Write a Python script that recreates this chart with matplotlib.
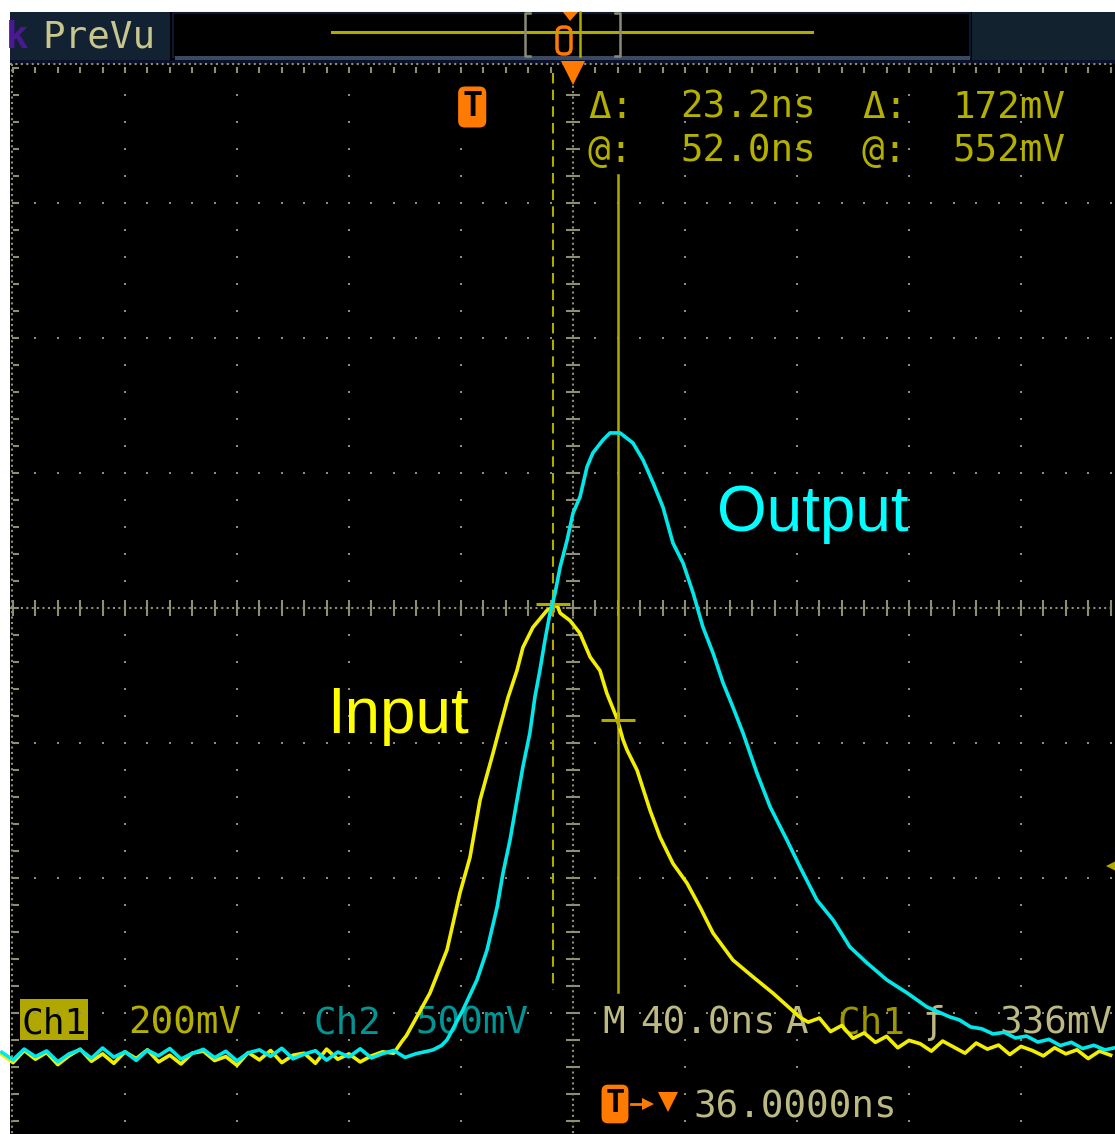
import matplotlib
matplotlib.use('Agg')
import matplotlib.pyplot as plt
import matplotlib.patches as patches
import matplotlib.transforms as mtransforms
import numpy as np

W, H = 1115, 1134
MONO = 'DejaVu Sans Mono'

# scope settings
ns_per_div = 40.0
t_center = 36.0            # trigger -> expansion point
ch1_mv_div = 200.0
ch2_mv_div = 500.0
cursor_t = [28.8, 52.0]    # @ 52.0 ns, delta 23.2 ns
cursor_mv = [724, 552]     # @ 552 mV, delta 172 mV
trig_level = 336           # A Ch1 rising 336 mV

# Ch1 (input), time in ns from trigger, volts in mV
in_base_t = [-168, -164, -160, -156, -152, -148, -144, -140, -136, -132, -128, -124,
             -120, -116, -112, -108, -104, -100, -96, -92, -88, -84, -80, -76, -72,
             -68, -64, -60, -56, -52, -48, -44, -40, -36, -32]
in_base_v = [57, 45, 63, 50, 60, 42, 55, 65, 47, 58, 44, 61, 51, 64, 46, 56, 43, 59,
             62, 48, 54, 41, 60, 49, 63, 45, 56, 59, 44, 65, 50, 58, 46, 55, 61]
in_pulse_t = [-28, -25, -23.5, -21.1, -15.1, -9.0, -4.4, -0.8, 2.8, 7.4, 9.9, 12.8,
              16.0, 18.1, 21.7, 26.7, 30.3, 31.4, 34.9, 38.5, 42.1, 45.6, 48.1, 51.7,
              53.9, 55.3, 58.9, 63.5, 67.1, 71.7, 76.7, 81.4, 86.0, 93.1, 100.3, 107.4, 117.1]
in_pulse_v = [59, 77, 85, 103, 148, 212, 296, 349, 434, 503, 542, 586, 626, 660, 690,
              715, 723, 711, 700, 681, 646, 626, 592, 555, 523, 508, 478, 419, 379, 340,
              311, 275, 237, 197, 172, 148, 112]
in_tail_t = [120, 124, 128, 132, 136, 140, 144, 148, 152, 156, 160, 164, 168, 172,
             176, 180, 184, 188, 192, 196, 200, 204, 208, 212, 216, 220, 224, 228]
in_tail_v = [105, 111, 91, 100, 81, 89, 75, 84, 67, 78, 73, 62, 77, 68, 59, 74, 65,
             71, 57, 69, 63, 55, 67, 58, 64, 51, 62, 56]

# Ch2 (output)
out_base_t = [-168, -164, -160, -156, -152, -148, -144, -140, -136, -132, -128, -124,
              -120, -116, -112, -108, -104, -100, -96, -92, -88, -84, -80, -76, -72,
              -68, -64, -60, -56, -52, -48, -44, -40, -36, -32, -28, -24]
out_base_v = [10, -18, 22, -6, 15, -25, 4, 20, -12, 26, -8, 12, -20, 18, -3, 24, -15,
              6, 21, -10, 14, -22, 8, 19, -5, 25, -14, 3, 16, -19, 11, -7, 23, -11, 5, 17, -9]
out_pulse_t = [-20, -16, -14, -11, -9, -3.3, 1.7, 5.3, 8.9, 11.0, 13.5, 16.0, 18.1,
               20.6, 22.4, 24.2, 26.0, 27.8, 29.6, 31.4, 33.9, 36.0, 38.5, 41.0, 43.1,
               46.7, 49.2, 52.8, 57.4, 61.0, 64.6, 68.1, 71.7, 75.3, 78.9, 82.4, 86.0,
               89.6, 93.1, 96.7, 101.7, 106.4, 112.4, 117.1, 123.1, 128.9, 134.9, 141.0,
               148.1, 155.3, 162.4, 170.6]
out_pulse_v = [5, 14, 19, 35, 56, 167, 278, 389, 548, 674, 796, 944, 1067, 1193, 1326,
               1426, 1537, 1637, 1711, 1807, 1907, 2007, 2067, 2178, 2230, 2278, 2304,
               2304, 2267, 2204, 2119, 2030, 1896, 1822, 1711, 1585, 1489, 1378, 1289,
               1193, 1044, 919, 796, 696, 574, 500, 400, 341, 278, 230, 178, 141]
out_tail_t = [174, 178, 182, 186, 190, 194, 198, 202, 206, 210, 214, 218, 222, 226, 230]
out_tail_v = [130, 104, 97, 78, 84, 63, 70, 48, 58, 35, 47, 24, 36, 19, 28]

t_in = in_base_t + in_pulse_t + in_tail_t
v_in = in_base_v + in_pulse_v + in_tail_v
t_out = out_base_t + out_pulse_t + out_tail_t
v_out = out_base_v + out_pulse_v + out_tail_v

# screen geometry (pixels)
gx0, gy0, dx, dy = 13, 68, 112, 135
xc, yc = gx0 + 5 * dx, gy0 + 4 * dy
ch1_gnd, ch2_gnd = 1093, 1055

yel_txt = '#b4b000'
khaki = '#bdb982'
teal = '#009696'
orange = '#ff7a00'
grid_c = '#8e8e72'
cur_c = '#b0ab00'

fig = plt.figure(figsize=(W / 100, H / 100), dpi=100)
fig.patch.set_facecolor('white')

bg = fig.add_axes([0, 0, 1, 1])
bg.set_xlim(0, W)
bg.set_ylim(H, 0)
bg.axis('off')

ax = fig.add_axes([0, 0, 1, 1])
ax.set_facecolor('none')
ax.axis('off')
ax.set_xlim(t_center + (0 - xc) / dx * ns_per_div, t_center + (W - xc) / dx * ns_per_div)
ax.set_ylim((ch1_gnd - H) / dy * ch1_mv_div, ch1_gnd / dy * ch1_mv_div)
ax2 = ax.twinx()
ax2.axis('off')
ax2.set_ylim((ch2_gnd - H) / dy * ch2_mv_div, ch2_gnd / dy * ch2_mv_div)
blend = mtransforms.blended_transform_factory(ax.transData, bg.transData)

# ---- screen background and top bar ----
bg.add_patch(patches.Rectangle((10, 12), W - 10, H - 12, fc='black', ec='none'))
box = patches.Rectangle((10, 12), 160, 48, fc='#122232', ec='none')
bg.add_patch(box)
bg.add_patch(patches.Rectangle((972, 12), W - 972, 48, fc='#13222f', ec='none'))
bg.add_patch(patches.Rectangle((173, 13), 797, 44, fc='black', ec='#0d1830', lw=1.5))
bg.add_patch(patches.Rectangle((175, 56), 795, 4, fc='#3a4a62', ec='none'))
bg.add_patch(patches.Rectangle((10, 60), W - 10, 4, fc='#0a0f2a', ec='none'))
bg.text(42, 48, 'PreVu', color='#c8c68e', fontsize=27, family=MONO)
k = bg.text(6, 48, 'k', color='#4a1890', fontsize=27, family=MONO, fontweight='bold')
k.set_clip_path(box)
bg.plot([332, 812], [32, 32], color=cur_c, lw=2.2)
bg.plot([530, 525, 525, 530], [13, 13, 56, 56], color='#8a8a78', lw=1.8)
bg.plot([615, 620, 620, 615], [13, 13, 56, 56], color='#8a8a78', lw=1.8)
bg.plot([580, 580], [12, 56], color=cur_c, lw=1.8)
bg.add_patch(patches.FancyBboxPatch((557, 27), 14, 27, boxstyle='round,pad=0,rounding_size=6',
                                    fc='black', ec=orange, lw=2.5))
bg.add_patch(patches.Polygon([(563, 12), (578, 12), (570, 21)], fc=orange, ec='none'))

# ---- graticule ----
ys_minor = gy0 + np.arange(0, 40) * dy / 5
xs_minor = gx0 + np.arange(0, 51) * dx / 5
for i in range(1, 10):
    if i == 5:
        continue
    bg.plot(np.full_like(ys_minor, gx0 + i * dx), ys_minor, ls='none', marker='s',
            ms=2.0, mew=0, color=grid_c)
for j in range(1, 8):
    if j == 4:
        continue
    bg.plot(xs_minor, np.full_like(xs_minor, gy0 + j * dy), ls='none', marker='s',
            ms=2.0, mew=0, color=grid_c)
bg.plot([xc, xc], [64, H], ls=(0, (1, 1.6)), lw=1.5, color=grid_c)
bg.plot(np.full_like(ys_minor, xc), ys_minor, ls='none', marker='_', ms=10, mew=1.5, color=grid_c)
bg.plot([10, W], [yc, yc], ls=(0, (1, 1.6)), lw=1.5, color=grid_c)
bg.plot(xs_minor, np.full_like(xs_minor, yc), ls='none', marker='|', ms=11, mew=1.5, color=grid_c)
bg.plot([10, W], [64, 64], ls=(0, (1, 1.6)), lw=1.5, color=grid_c)
bg.plot(xs_minor, np.full_like(xs_minor, 70), ls='none', marker='|', ms=5, mew=1.5, color=grid_c)
bg.plot([12, 12], [64, H], ls=(0, (1, 1.6)), lw=1.5, color=grid_c)
bg.plot(np.full_like(ys_minor, 16), ys_minor, ls='none', marker='_', ms=5, mew=1.5, color=grid_c)

# ---- readouts ----
fs = 27
for txt, x, y in [('Δ:', 588, 118), ('23.2ns', 680, 118), ('Δ:', 862, 118), ('172mV', 952, 118),
                  ('@:', 588, 162), ('52.0ns', 680, 162), ('@:', 862, 162), ('552mV', 952, 162)]:
    bg.text(x, y, txt, color=yel_txt, fontsize=fs, family=MONO)

bg.add_patch(patches.Rectangle((20, 999), 68, 41, fc='#b0a800', ec='none'))
bg.text(22, 1034, 'Ch1', color='black', fontsize=26, family=MONO)
bg.text(128, 1034, '200mV', color=yel_txt, fontsize=fs, family=MONO)
bg.text(313, 1034, 'Ch2', color=teal, fontsize=fs, family=MONO)
bg.text(415, 1034, '500mV', color=teal, fontsize=fs, family=MONO)
bg.text(602, 1033, 'M', color=khaki, fontsize=fs, family=MONO)
bg.text(640, 1033, '40.0ns', color=khaki, fontsize=fs, family=MONO)
bg.text(785, 1033, 'A', color=khaki, fontsize=fs, family=MONO)
bg.text(838, 1033, 'Ch1', color='#9c9600', fontsize=fs, family=MONO)
bg.text(922, 1033, 'ƒ', color=khaki, fontsize=fs, family=MONO)
bg.text(999, 1033, '336mV', color=khaki, fontsize=fs, family=MONO)
bg.text(615, 1104, 'T', color='black', fontsize=23, family=MONO, fontweight='bold',
        ha='center', va='center',
        bbox=dict(boxstyle='round,pad=0.12,rounding_size=0.2', fc=orange, ec='none'))
bg.plot([631, 646], [1104, 1104], color=orange, lw=2)
bg.plot([648], [1104], marker='>', ms=8, color=orange, mew=0)
bg.plot([668], [1102], marker='v', ms=14, color=orange, mew=0)
bg.text(693, 1118, '36.0000ns', color=khaki, fontsize=fs, family=MONO)

bg.text(327, 733, 'Input', color='#ffff00', fontsize=46, family='Liberation Sans')
bg.text(717, 531, 'Output', color='#00ffff', fontsize=46, family='Liberation Sans')

# ---- markers and cursors ----
ax.text(0, 107, 'T', transform=blend, color='black', fontsize=24, family=MONO,
        fontweight='bold', ha='center', va='center',
        bbox=dict(boxstyle='round,pad=0.12,rounding_size=0.2', fc=orange, ec='none'))
ax.plot([t_center], [73], transform=blend, marker='v', ms=17, mew=0, color=orange)
ax.plot([cursor_t[0]] * 2, [73, 990], transform=blend, color=cur_c, lw=1.5, dashes=(5, 3))
ax.plot([cursor_t[1]] * 2, [175, 992], transform=blend, color=cur_c, lw=1.8)

ax2.plot(t_out, v_out, color='#00e8ea', lw=2.6, zorder=3)
ax.plot(t_in, v_in, color='#f2ee00', lw=2.6, zorder=4)

ax.plot(cursor_t, cursor_mv, ls='none', marker='_', ms=25, mew=2.2, color=cur_c, zorder=5)
ax.plot(cursor_t, cursor_mv, ls='none', marker='|', ms=12, mew=2.2, color=cur_c, zorder=5)
edge = mtransforms.blended_transform_factory(ax.transAxes, ax.transData)
ax.plot([1.004], [trig_level], transform=edge, marker='<', ms=19, mew=0, color=cur_c)

plt.savefig('out.png', dpi=100)
